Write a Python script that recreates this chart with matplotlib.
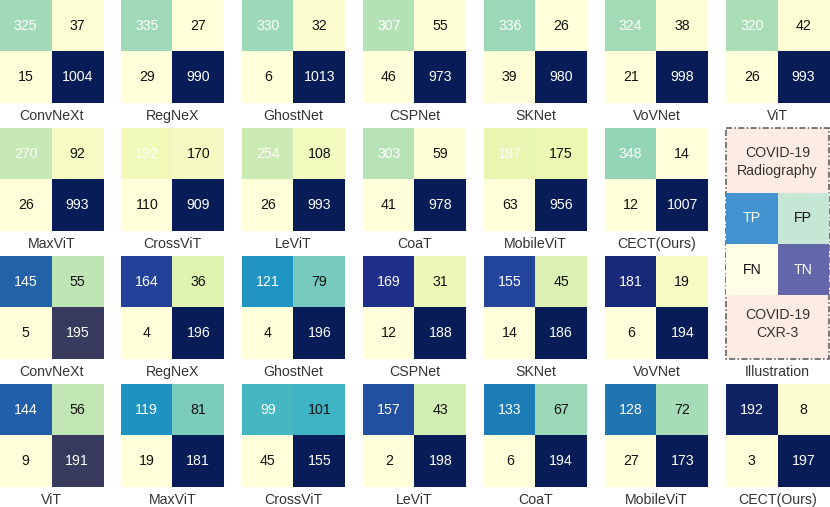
import numpy as np
import matplotlib
matplotlib.use("Agg")
import matplotlib.pyplot as plt
from matplotlib.colors import Normalize, LinearSegmentedColormap
from matplotlib.patches import Rectangle

plt.rcParams['font.family'] = ['Liberation Sans', 'DejaVu Sans']

# model names, one per panel
models_radiography = ["ConvNeXt", "RegNeX", "GhostNet", "CSPNet", "SKNet", "VoVNet", "ViT",
                      "MaxViT", "CrossViT", "LeViT", "CoaT", "MobileViT", "CECT(Ours)"]
models_cxr3 = ["ConvNeXt", "RegNeX", "GhostNet", "CSPNet", "SKNet", "VoVNet",
               "ViT", "MaxViT", "CrossViT", "LeViT", "CoaT", "MobileViT", "CECT(Ours)"]

# confusion matrices [[TP, FP], [FN, TN]]
cm_radiography = [
    [[325, 37], [15, 1004]],
    [[335, 27], [29, 990]],
    [[330, 32], [6, 1013]],
    [[307, 55], [46, 973]],
    [[336, 26], [39, 980]],
    [[324, 38], [21, 998]],
    [[320, 42], [26, 993]],
    [[270, 92], [26, 993]],
    [[192, 170], [110, 909]],
    [[254, 108], [26, 993]],
    [[303, 59], [41, 978]],
    [[187, 175], [63, 956]],
    [[348, 14], [12, 1007]],
]
cm_cxr3 = [
    [[145, 55], [5, 195]],
    [[164, 36], [4, 196]],
    [[121, 79], [4, 196]],
    [[169, 31], [12, 188]],
    [[155, 45], [14, 186]],
    [[181, 19], [6, 194]],
    [[144, 56], [9, 191]],
    [[119, 81], [19, 181]],
    [[99, 101], [45, 155]],
    [[157, 43], [2, 198]],
    [[133, 67], [6, 194]],
    [[128, 72], [27, 173]],
    [[192, 8], [3, 197]],
]
illustration_labels = [["TP", "FP"], ["FN", "TN"]]

# a couple of panels in the original render with a muted dark end
muted_cxr3 = {0, 6}

W, H = 830, 507
fig = plt.figure(figsize=(W / 100, H / 100), dpi=100)

base = plt.get_cmap("YlGnBu")
muted = LinearSegmentedColormap.from_list(
    "YlGnBu_muted", [base(x) for x in np.linspace(0, 0.875, 8)] + ["#393b5e"])

PX, PW = 121, 103   # column pitch, panel size
ROW_TOP = [0, 128, 256, 384]


def px_axes(x, y, w, h):
    return fig.add_axes([x / W, 1 - (y + h) / H, w / W, h / H])


def draw_cm(col, row, cm, name, cmap):
    x, y = col * PX, ROW_TOP[row]
    m = np.array(cm)
    ax = px_axes(x, y, PW, PW)
    ax.imshow(m, cmap=cmap, norm=Normalize(m.min(), m.max()), aspect='auto')
    for i in range(2):
        for j in range(2):
            ax.text(j, i, str(m[i, j]), ha='center', va='center', fontsize=10.2,
                    color='white' if i == j else '#111111')
    ax.set_axis_off()
    fig.text((x + PW / 2) / W, 1 - (y + PW + 13) / H, name, ha='center', va='center',
             fontsize=10.2, color='#333333')


for k, (name, cm) in enumerate(zip(models_radiography, cm_radiography)):
    row, col = divmod(k, 7)
    draw_cm(col, row, cm, name, base)

for k, (name, cm) in enumerate(zip(models_cxr3, cm_cxr3)):
    if k < 6:
        row, col = 2, k
    else:
        row, col = 3, k - 6
    draw_cm(col, row, cm, name, muted if k in muted_cxr3 else base)

# illustration box
x0, y0 = 726, 128
ax = px_axes(x0, y0, PW, 231)
ax.set_xlim(0, 1)
ax.set_ylim(231, 0)
ax.set_axis_off()
ax.add_patch(Rectangle((0, 0), 1, 231, facecolor='#fcece3', edgecolor='#555555',
                       linestyle=(0, (4, 1.5, 1, 1.5)), linewidth=1.1, clip_on=False))
ill_colors = [["#4393d0", "#c6e6d6"], ["#fffde6", "#6366a9"]]
for i in range(2):
    for j in range(2):
        ax.add_patch(Rectangle((j * 0.5, 65 + i * 51), 0.5, 51, facecolor=ill_colors[i][j],
                               edgecolor='none'))
        ax.text(j * 0.5 + 0.25, 65 + i * 51 + 25.5, illustration_labels[i][j],
                ha='center', va='center', fontsize=10.2,
                color='white' if i == j else '#111111')
ax.text(0.5, 34, "COVID-19\nRadiography", ha='center', va='center', fontsize=10.2,
        color='#333333', linespacing=1.3)
ax.text(0.5, 196, "COVID-19\nCXR-3", ha='center', va='center', fontsize=10.2,
        color='#333333', linespacing=1.3)
fig.text((x0 + PW / 2) / W, 1 - (ROW_TOP[2] + PW + 13) / H, "Illustration",
         ha='center', va='center', fontsize=10.2, color='#333333')

fig.savefig("out.png", dpi=100)
